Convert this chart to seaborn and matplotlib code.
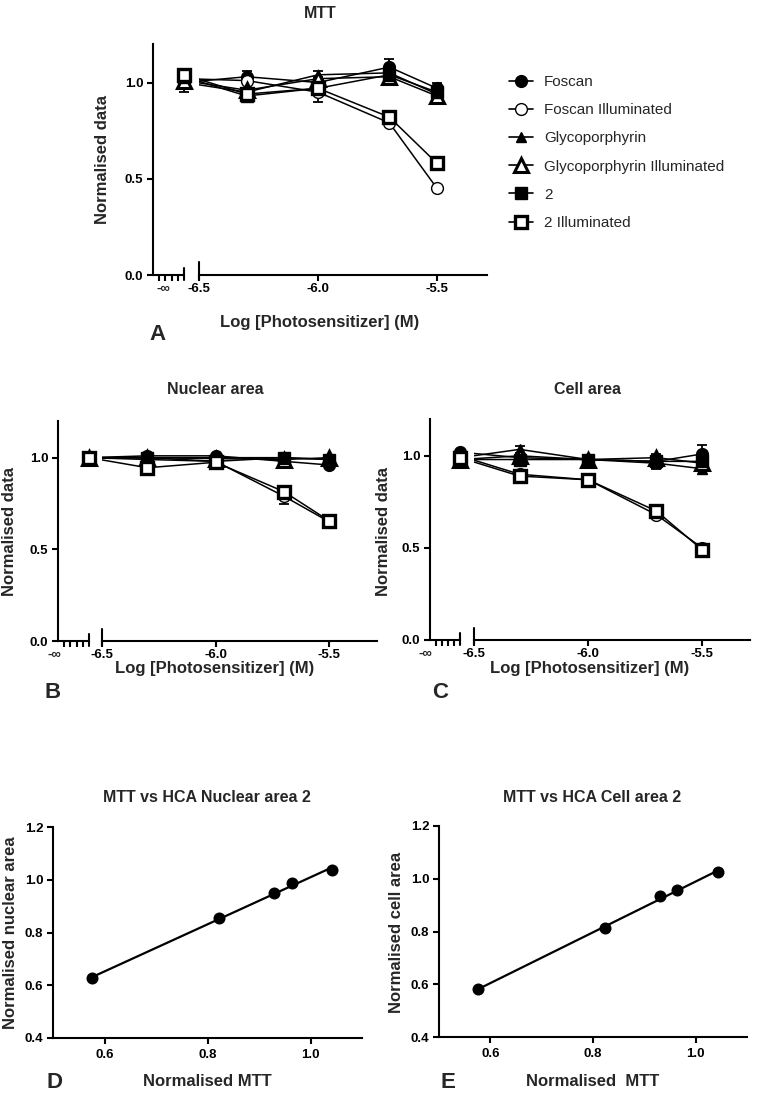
#!/usr/bin/env python3

# ===================== LIBRARIES =====================

import matplotlib
matplotlib.use("Agg")
import matplotlib.pyplot as plt
from matplotlib.lines import Line2D
from matplotlib.ticker import FormatStrFormatter
import seaborn as sns
import pandas as pd

# ===================== DATA =====================

log_conc = [-6.3, -6.0, -5.7, -5.5]
series_names = ["Foscan", "Foscan Illuminated", "Glycoporphyrin",
                "Glycoporphyrin Illuminated", "2", "2 Illuminated"]

# first value = untreated control (plotted on the -inf segment), then log_conc
mtt_foscan = [1.00, 1.03, 1.00, 1.08, 0.97]
mtt_foscan_ill = [1.02, 1.01, 0.95, 0.79, 0.45]
mtt_glyco = [1.00, 0.95, 1.04, 1.05, 0.94]
mtt_glyco_ill = [1.01, 0.96, 1.02, 1.03, 0.93]
mtt_2 = [1.03, 0.93, 0.97, 1.04, 0.95]
mtt_2_ill = [1.04, 0.94, 0.97, 0.82, 0.58]

mtt_foscan_err = [0.05, 0.03, 0.01, 0.04, 0.03]
mtt_foscan_ill_err = [0.01, 0.01, 0.05, 0.01, 0.01]
mtt_glyco_err = [0.01, 0.01, 0.02, 0.01, 0.01]
mtt_glyco_ill_err = [0.01, 0.01, 0.01, 0.01, 0.01]
mtt_2_err = [0.01, 0.01, 0.01, 0.01, 0.01]
mtt_2_ill_err = [0.01, 0.01, 0.01, 0.01, 0.01]

nuc_foscan = [1.00, 1.01, 1.01, 0.98, 0.96]
nuc_foscan_ill = [1.00, 0.99, 0.98, 0.79, 0.65]
nuc_glyco = [1.00, 1.00, 1.00, 1.00, 0.99]
nuc_glyco_ill = [1.00, 1.00, 0.995, 0.99, 1.00]
nuc_2 = [1.00, 1.00, 0.98, 1.00, 0.99]
nuc_2_ill = [1.00, 0.945, 0.975, 0.815, 0.655]

nuc_foscan_err = [0.01, 0.01, 0.01, 0.01, 0.01]
nuc_foscan_ill_err = [0.01, 0.01, 0.01, 0.04, 0.01]
nuc_glyco_err = [0.01, 0.01, 0.01, 0.01, 0.01]
nuc_glyco_ill_err = [0.01, 0.01, 0.01, 0.01, 0.01]
nuc_2_err = [0.01, 0.01, 0.01, 0.01, 0.01]
nuc_2_ill_err = [0.01, 0.01, 0.01, 0.02, 0.01]

cell_foscan = [1.02, 0.99, 0.98, 0.97, 1.01]
cell_foscan_ill = [1.00, 0.90, 0.87, 0.68, 0.50]
cell_glyco = [0.99, 1.035, 0.98, 0.96, 0.93]
cell_glyco_ill = [0.98, 1.00, 0.98, 0.99, 0.96]
cell_2 = [0.98, 0.98, 0.98, 0.97, 0.97]
cell_2_ill = [0.99, 0.89, 0.87, 0.70, 0.49]

cell_foscan_err = [0.01, 0.01, 0.01, 0.01, 0.05]
cell_foscan_ill_err = [0.01, 0.01, 0.01, 0.01, 0.01]
cell_glyco_err = [0.01, 0.02, 0.01, 0.01, 0.01]
cell_glyco_ill_err = [0.01, 0.01, 0.01, 0.01, 0.01]
cell_2_err = [0.01, 0.01, 0.01, 0.04, 0.01]
cell_2_ill_err = [0.01, 0.01, 0.01, 0.01, 0.01]

# MTT vs HCA (compound 2 illuminated)
corr_mtt = [0.576, 0.822, 0.929, 0.964, 1.042]
corr_nuclear = [0.627, 0.855, 0.948, 0.986, 1.036]
corr_mtt_cell = [0.576, 0.823, 0.931, 0.964, 1.044]
corr_cell = [0.581, 0.812, 0.936, 0.957, 1.024]

# ===================== STYLE =====================

sns.set_theme(style="ticks")
plt.rcParams["font.family"] = ["Liberation Sans", "DejaVu Sans"]
plt.rcParams.update({
    "axes.linewidth": 1.5,
    "xtick.major.width": 1.5,
    "ytick.major.width": 1.5,
    "xtick.minor.width": 1.5,
    "xtick.major.size": 4,
    "ytick.major.size": 4,
    "xtick.minor.size": 4,
    "xtick.color": "black",
    "ytick.color": "black",
    "axes.edgecolor": "black",
    "xtick.labelsize": 9.5,
    "ytick.labelsize": 9.5,
})

# marker, size, face colour, edge width
marker_styles = {
    "Foscan": ("o", 8.5, "black", 1.0),
    "Foscan Illuminated": ("o", 8.5, "white", 1.0),
    "Glycoporphyrin": ("^", 6.5, "black", 1.0),
    "Glycoporphyrin Illuminated": ("^", 9.5, "white", 2.2),
    "2": ("s", 9.0, "black", 1.0),
    "2 Illuminated": ("s", 9.0, "white", 2.4),
}

W, H = 764, 1096
LABEL_FS = 12
TITLE_FS = 11.5


def frac(x0, x1, ytop, ybot):
    return [x0 / W, 1 - ybot / H, (x1 - x0) / W, (ybot - ytop) / H]


def ftxt(fig, x, y, s, **kw):
    fig.text(x / W, 1 - y / H, s, ha="center", va="center", **kw)


def dose_panel(fig, box, values, errors, inf_label_x):
    left, brk, start, end, top, bottom = box
    ax_inf = fig.add_axes(frac(left, brk, top, bottom))
    ax_log = fig.add_axes(frac(start, end, top, bottom))
    for ax in (ax_inf, ax_log):
        ax.set_ylim(0, 1.2)
        ax.patch.set_alpha(0)
    ax_inf.set_xlim(-1, 0)
    ax_log.set_xlim(-6.5, -5.29)

    # control position expressed in the log axis coordinates (gets clipped at the break)
    x_ctrl = ax_log.transData.inverted().transform(
        ax_inf.transData.transform((0, 0)))[0]

    for name in series_names:
        marker, ms, face, mew = marker_styles[name]
        y = values[name]
        e = errors[name]
        df = pd.DataFrame({"x": [x_ctrl] + log_conc, "y": y})
        sns.lineplot(
            data=df, x="x", y="y", ax=ax_log, color="black", lw=1.1,
            marker=marker, markersize=ms, markerfacecolor=face,
            markeredgecolor="black", markeredgewidth=mew,
            legend=False, errorbar=None, sort=False, zorder=2
        )
        ax_log.errorbar(log_conc, y[1:], yerr=e[1:], fmt="none", ecolor="black",
                        elinewidth=1.3, capsize=3.5, capthick=1.3, zorder=1.5)
        cont = ax_inf.errorbar([0], y[:1], yerr=e[:1], fmt="none", ecolor="black",
                               elinewidth=1.3, capsize=3.5, capthick=1.3, zorder=1.5)
        for art in cont.get_children():
            art.set_clip_on(False)
        ax_inf.plot([0], y[:1], ls="none", marker=marker, markersize=ms,
                    markerfacecolor=face, markeredgecolor="black",
                    markeredgewidth=mew, clip_on=False, zorder=2)

    # axes cosmetics
    sns.despine(ax=ax_inf)
    sns.despine(ax=ax_log, left=True)
    ax_inf.set_yticks([0, 0.5, 1.0])
    ax_inf.yaxis.set_major_formatter(FormatStrFormatter("%.1f"))
    ax_inf.set_xticks([])
    ax_inf.set_xticks([-0.8, -0.6, -0.4, -0.2], minor=True)
    ax_inf.tick_params(axis="x", which="minor", labelbottom=False)
    ax_inf.tick_params(axis="y", pad=3)
    ax_log.tick_params(axis="y", left=False, labelleft=False)
    ax_log.set_xticks([-6.5, -6.0, -5.5])
    ax_log.xaxis.set_major_formatter(FormatStrFormatter("%.1f"))
    ax_log.tick_params(axis="x", pad=2)
    for lab in ax_inf.get_yticklabels() + ax_log.get_xticklabels():
        lab.set_fontweight("bold")
    ax_inf.set_xlabel("")
    ax_inf.set_ylabel("")
    ax_log.set_xlabel("")
    ax_log.set_ylabel("")

    # break marks
    ax_inf.axvline(0, ymin=-0.022, ymax=0.032, color="black", lw=1.5, clip_on=False)
    ax_log.axvline(-6.5, ymin=-0.022, ymax=0.055, color="black", lw=1.5, clip_on=False)
    ax_inf.annotate("-∞", xy=(inf_label_x, 0), xycoords=("data", "axes fraction"),
                    xytext=(0, -5.5), textcoords="offset points",
                    ha="center", va="top", fontsize=9.5, fontweight="bold")
    return ax_inf, ax_log


def corr_panel(fig, rect, x, y):
    ax = fig.add_axes(rect)
    sns.regplot(x=x, y=y, ax=ax, ci=None, color="black", truncate=True,
                scatter_kws={"s": 75, "linewidths": 0, "zorder": 3, "alpha": 1},
                line_kws={"lw": 1.6})
    ax.set_xlim(0.5, 1.1)
    ax.set_ylim(0.4, 1.2)
    ax.set_xticks([0.6, 0.8, 1.0])
    ax.set_yticks([0.4, 0.6, 0.8, 1.0, 1.2])
    ax.xaxis.set_major_formatter(FormatStrFormatter("%.1f"))
    ax.yaxis.set_major_formatter(FormatStrFormatter("%.1f"))
    ax.tick_params(axis="y", pad=3)
    ax.tick_params(axis="x", pad=4)
    for lab in ax.get_xticklabels() + ax.get_yticklabels():
        lab.set_fontweight("bold")
    sns.despine(ax=ax)
    return ax


# ===================== MAIN =====================

def main():
    fig = plt.figure(figsize=(W / 100, H / 100), dpi=100)
    fig.patch.set_facecolor("white")

    mtt = dict(zip(series_names, [mtt_foscan, mtt_foscan_ill, mtt_glyco,
                                  mtt_glyco_ill, mtt_2, mtt_2_ill]))
    mtt_err = dict(zip(series_names, [mtt_foscan_err, mtt_foscan_ill_err, mtt_glyco_err,
                                      mtt_glyco_ill_err, mtt_2_err, mtt_2_ill_err]))
    nuc = dict(zip(series_names, [nuc_foscan, nuc_foscan_ill, nuc_glyco,
                                  nuc_glyco_ill, nuc_2, nuc_2_ill]))
    nuc_err = dict(zip(series_names, [nuc_foscan_err, nuc_foscan_ill_err, nuc_glyco_err,
                                      nuc_glyco_ill_err, nuc_2_err, nuc_2_ill_err]))
    cell = dict(zip(series_names, [cell_foscan, cell_foscan_ill, cell_glyco,
                                   cell_glyco_ill, cell_2, cell_2_ill]))
    cell_err = dict(zip(series_names, [cell_foscan_err, cell_foscan_ill_err, cell_glyco_err,
                                       cell_glyco_ill_err, cell_2_err, cell_2_ill_err]))

    # ---- A: MTT ----
    dose_panel(fig, (153, 184, 199, 487, 44, 275), mtt, mtt_err, -0.65)
    ftxt(fig, 320, 13, "MTT", fontsize=TITLE_FS, fontweight="bold")
    ftxt(fig, 103, 160, "Normalised data", fontsize=LABEL_FS, fontweight="bold", rotation=90)
    ftxt(fig, 320, 323, "Log [Photosensitizer] (M)", fontsize=LABEL_FS, fontweight="bold")
    ftxt(fig, 157, 335, "A", fontsize=16, fontweight="bold")

    handles = []
    for name in series_names:
        marker, ms, face, mew = marker_styles[name]
        handles.append(Line2D([], [], color="black", lw=1.2, marker=marker, markersize=ms,
                              markerfacecolor=face, markeredgecolor="black",
                              markeredgewidth=mew))
    fig.legend(handles, series_names, loc="upper left",
               bbox_to_anchor=(509 / W, 1 - 75 / H), frameon=False, fontsize=11,
               handlelength=1.55, handletextpad=0.75, labelspacing=0.93, borderpad=0,
               borderaxespad=0)

    # ---- B: Nuclear area ----
    dose_panel(fig, (58, 89, 102, 377, 421, 641), nuc, nuc_err, -1.1)
    ftxt(fig, 215, 390, "Nuclear area", fontsize=TITLE_FS, fontweight="bold")
    ftxt(fig, 10, 532, "Normalised data", fontsize=LABEL_FS, fontweight="bold", rotation=90)
    ftxt(fig, 215, 669, "Log [Photosensitizer] (M)", fontsize=LABEL_FS, fontweight="bold")
    ftxt(fig, 53, 692, "B", fontsize=16, fontweight="bold")

    # ---- C: Cell area ----
    dose_panel(fig, (430, 460, 474, 750, 419, 640), cell, cell_err, -1.15)
    ftxt(fig, 588, 389, "Cell area", fontsize=TITLE_FS, fontweight="bold")
    ftxt(fig, 383, 532, "Normalised data", fontsize=LABEL_FS, fontweight="bold", rotation=90)
    ftxt(fig, 590, 669, "Log [Photosensitizer] (M)", fontsize=LABEL_FS, fontweight="bold")
    ftxt(fig, 440, 692, "C", fontsize=16, fontweight="bold")

    # ---- D: MTT vs nuclear area ----
    corr_panel(fig, frac(53, 362, 827, 1038), corr_mtt, corr_nuclear)
    ftxt(fig, 207, 798, "MTT vs HCA Nuclear area 2", fontsize=TITLE_FS, fontweight="bold")
    ftxt(fig, 11, 933, "Normalised nuclear area", fontsize=LABEL_FS, fontweight="bold", rotation=90)
    ftxt(fig, 207, 1082, "Normalised MTT", fontsize=LABEL_FS, fontweight="bold")
    ftxt(fig, 54, 1083, "D", fontsize=16, fontweight="bold")

    # ---- E: MTT vs cell area ----
    corr_panel(fig, frac(439, 747, 826, 1037), corr_mtt_cell, corr_cell)
    ftxt(fig, 592, 797, "MTT vs HCA Cell area 2", fontsize=TITLE_FS, fontweight="bold")
    ftxt(fig, 396, 932, "Normalised cell area", fontsize=LABEL_FS, fontweight="bold", rotation=90)
    ftxt(fig, 593, 1082, "Normalised  MTT", fontsize=LABEL_FS, fontweight="bold")
    ftxt(fig, 448, 1083, "E", fontsize=16, fontweight="bold")

    fig.savefig("out.png", dpi=100)
    plt.close("all")


if __name__ == "__main__":
    main()
